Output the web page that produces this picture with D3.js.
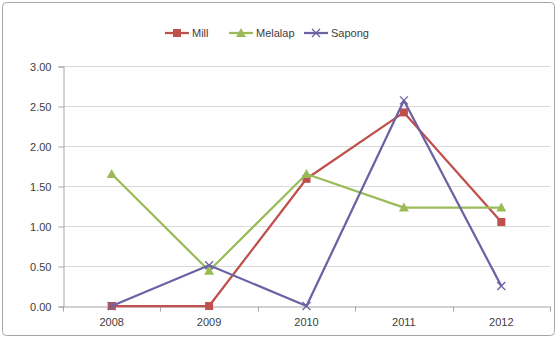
<!DOCTYPE html>
<html>
<head>
<meta charset="utf-8">
<script src="https://cdn.jsdelivr.net/npm/d3@7"></script>
<style>
  body { margin: 0; background: #fff; }
  text { font-family: "Liberation Sans", Arial, sans-serif; fill: #404040; }
</style>
</head>
<body>
<div id="chart"></div>
<script>
// Read data
var years = ["2008", "2009", "2010", "2011", "2012"];
var mill = [0, 0, 1.59, 2.42, 1.05];
var melalap = [1.65, 0.44, 1.65, 1.23, 1.23];
var sapong = [0, 0.51, 0, 2.57, 0.25];
var yTicks = [0, 0.5, 1, 1.5, 2, 2.5, 3];

var series = [
  {name: "Mill", values: mill, color: "#C0504D", marker: "square"},
  {name: "Melalap", values: melalap, color: "#9BBB59", marker: "triangle"},
  {name: "Sapong", values: sapong, color: "#6B62A3", marker: "x"}
];

// set dimensions
var width = 557, height = 338;
var margin = {top: 66, right: 7, bottom: 32, left: 63};

var svg = d3.select("#chart")
  .append("svg")
    .attr("width", width)
    .attr("height", height);

// chart border
svg.append("rect")
  .attr("x", 2.5).attr("y", 2.5)
  .attr("width", width - 5).attr("height", height - 5)
  .attr("rx", 4)
  .attr("fill", "#fff")
  .attr("stroke", "#A6A6A6");

var x = d3.scaleBand()
  .domain(years)
  .range([margin.left, width - margin.right]);

var y = d3.scaleLinear()
  .domain([0, 3])
  .range([height - margin.bottom, margin.top]);

// gridlines
svg.append("g")
  .selectAll("line")
  .data(yTicks.slice(1))
  .join("line")
    .attr("x1", margin.left).attr("x2", width - margin.right)
    .attr("y1", function(d) { return Math.round(y(d)) + 0.5; })
    .attr("y2", function(d) { return Math.round(y(d)) + 0.5; })
    .attr("stroke", "#D9D9D9");

// Y axis
var yAxis = svg.append("g")
  .attr("transform", "translate(" + (margin.left + 0.5) + ",0.5)")
  .call(d3.axisLeft(y).tickValues(yTicks).tickSize(5).tickPadding(7)
    .tickFormat(d3.format(".2f")));
yAxis.selectAll("line, path").attr("stroke", "#A6A6A6");
yAxis.selectAll("text").style("font-size", "11px").style("fill", "#404040");

// X axis
var xAxis = svg.append("g")
  .attr("transform", "translate(0," + (Math.round(y(0)) + 0.5) + ")")
  .call(d3.axisBottom(x).tickSize(0).tickPadding(12));
xAxis.select("path").attr("stroke", "#A6A6A6");
xAxis.selectAll("text").style("font-size", "11px").style("fill", "#404040");
// category boundary ticks
xAxis.append("g")
  .selectAll("line")
  .data(years.concat([null]))
  .join("line")
    .attr("x1", function(d, i) { return Math.round(margin.left + i * x.step()) + 0.5; })
    .attr("x2", function(d, i) { return Math.round(margin.left + i * x.step()) + 0.5; })
    .attr("y1", 0).attr("y2", 5)
    .attr("stroke", "#A6A6A6");

function cx(i) { return x(years[i]) + x.bandwidth() / 2; }

function drawMarker(g, type, color, px, py) {
  if (type === "square") {
    g.append("rect")
      .attr("x", px - 4).attr("y", py - 4)
      .attr("width", 8).attr("height", 8)
      .attr("fill", color);
  } else if (type === "triangle") {
    g.append("path")
      .attr("d", "M" + px + "," + (py - 5) + "L" + (px + 5) + "," + (py + 4) + "L" + (px - 5) + "," + (py + 4) + "Z")
      .attr("fill", color);
  } else {
    g.append("path")
      .attr("d", "M" + (px - 4) + "," + (py - 4) + "L" + (px + 4) + "," + (py + 4) +
                 "M" + (px + 4) + "," + (py - 4) + "L" + (px - 4) + "," + (py + 4))
      .attr("stroke", color)
      .attr("stroke-width", 1.3)
      .attr("fill", "none");
  }
}

// lines
var line = d3.line()
  .x(function(d, i) { return cx(i); })
  .y(function(d) { return y(d); });

series.forEach(function(s) {
  var g = svg.append("g");
  g.append("path")
    .datum(s.values)
    .attr("fill", "none")
    .attr("stroke", s.color)
    .attr("stroke-width", 2.25)
    .attr("stroke-linejoin", "round")
    .attr("d", line);
  s.values.forEach(function(v, i) {
    drawMarker(g, s.marker, s.color, cx(i), y(v));
  });
});

// legend
var legendX = [165, 229, 304];
series.forEach(function(s, i) {
  var g = svg.append("g").attr("transform", "translate(" + legendX[i] + ",33)");
  g.append("line")
    .attr("x1", 0).attr("x2", 24)
    .attr("stroke", s.color).attr("stroke-width", 2.25);
  drawMarker(g, s.marker, s.color, 12, 0);
  g.append("text")
    .attr("x", 27).attr("y", 4)
    .style("font-size", "11px")
    .text(s.name);
});
</script>
</body>
</html>
